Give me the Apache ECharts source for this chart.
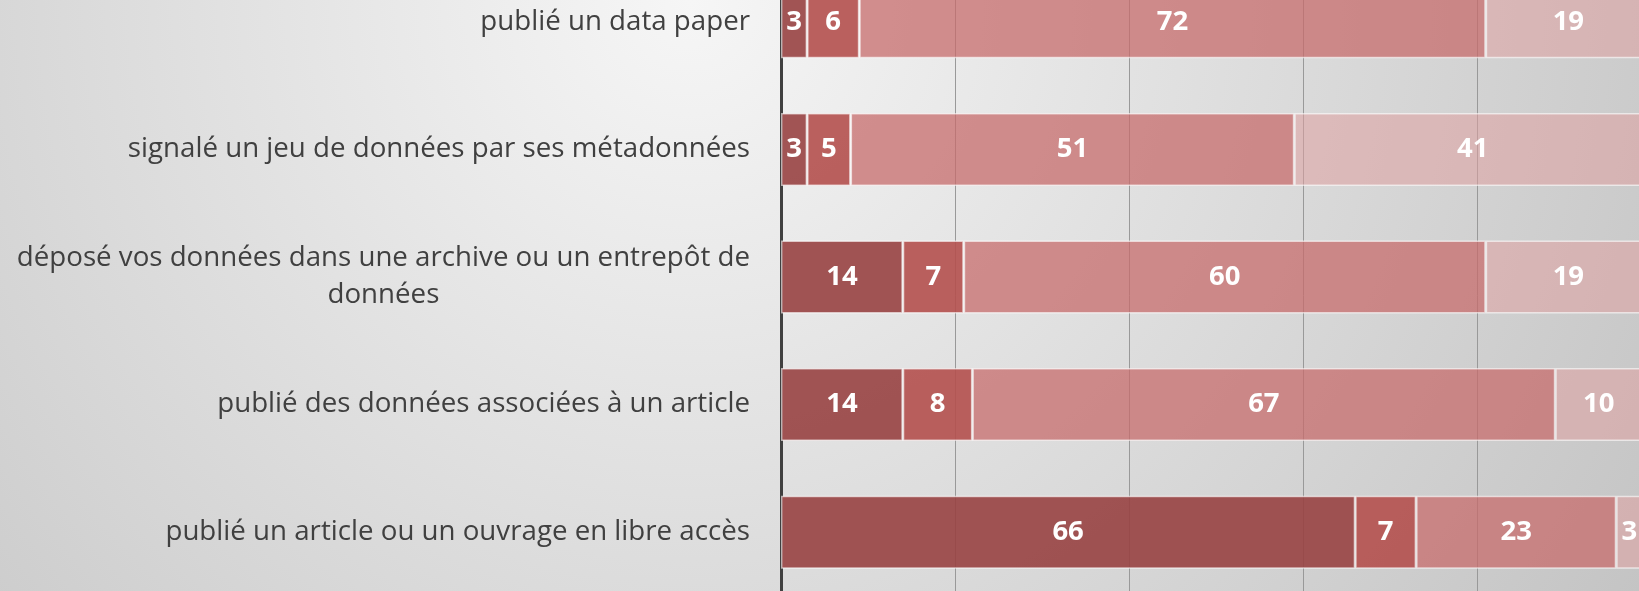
<!DOCTYPE html>
<html>
<head>
<meta charset="utf-8">
<script src="https://cdn.jsdelivr.net/npm/echarts@6/dist/echarts.min.js"></script>
<style>
html,body{margin:0;padding:0;}
#chart{width:1639px;height:591px;}
</style>
</head>
<body>
<div id="chart"></div>
<script>
const categories = [
  "publié un data paper",
  "signalé un jeu de données par ses métadonnées",
  "déposé vos données dans une archive ou un entrepôt de données",
  "publié des données associées à un article",
  "publié un article ou un ouvrage en libre accès"
];
const seriesNames = ["Série 1", "Série 2", "Série 3", "Série 4"];
const values1 = [3, 3, 14, 14, 66];
const values2 = [6, 5, 7, 8, 7];
const values3 = [72, 51, 60, 67, 23];
const values4 = [19, 41, 19, 10, 3];
const xTicks = { min: 0, max: 100, interval: 20 };

const seriesValues = [values1, values2, values3, values4];
const colors = [
  'rgba(152,67,66,0.9)',
  'rgba(180,80,78,0.9)',
  'rgba(199,108,108,0.75)',
  'rgba(222,160,160,0.55)'
];

const chart = echarts.init(document.getElementById('chart'), null, {renderer: 'canvas'});
const option = {
  backgroundColor: {
    type: 'radial', x: 690, y: 0, r: 1120, global: true,
    colorStops: [{offset: 0, color: '#f6f6f6'}, {offset: 1, color: '#c4c4c4'}]
  },
  animation: false,
  grid: { left: 781, top: -42, width: 870, height: 638, containLabel: false, outerBoundsMode: 'none' },
  xAxis: {
    type: 'value', min: xTicks.min, max: xTicks.max, interval: xTicks.interval,
    axisLabel: { show: false }, axisLine: { show: false }, axisTick: { show: false },
    splitLine: { show: true, lineStyle: { color: '#999999', width: 1 } }
  },
  yAxis: {
    type: 'category', data: categories, inverse: true,
    axisLine: { show: true, lineStyle: { color: '#404040', width: 3 } },
    axisTick: { show: false },
    splitLine: { show: false },
    axisLabel: {
      margin: 31,
      formatter: function (v) {
        if (v.length > 50) {
          const cut = v.lastIndexOf(' ', 54);
          return '{c|' + v.slice(0, cut) + '}\n{c|' + v.slice(cut + 1) + '}';
        }
        return '{c|' + v + '}';
      },
      rich: {
        c: { align: 'center', fontSize: 27.7, color: '#404040', fontFamily: 'Open Sans', lineHeight: 37 }
      }
    }
  },
  series: seriesValues.map((vals, i) => ({
    name: seriesNames[i],
    type: 'bar',
    stack: 'total',
    barWidth: 73,
    data: vals,
    itemStyle: { color: colors[i], borderColor: 'rgba(255,255,255,0.6)', borderWidth: 1.5 },
    label: {
      show: true, position: 'inside', color: '#ffffff', fontWeight: 'bold',
      fontSize: 27.5, fontFamily: 'Open Sans'
    }
  }))
};
chart.setOption(option);
</script>
</body>
</html>
